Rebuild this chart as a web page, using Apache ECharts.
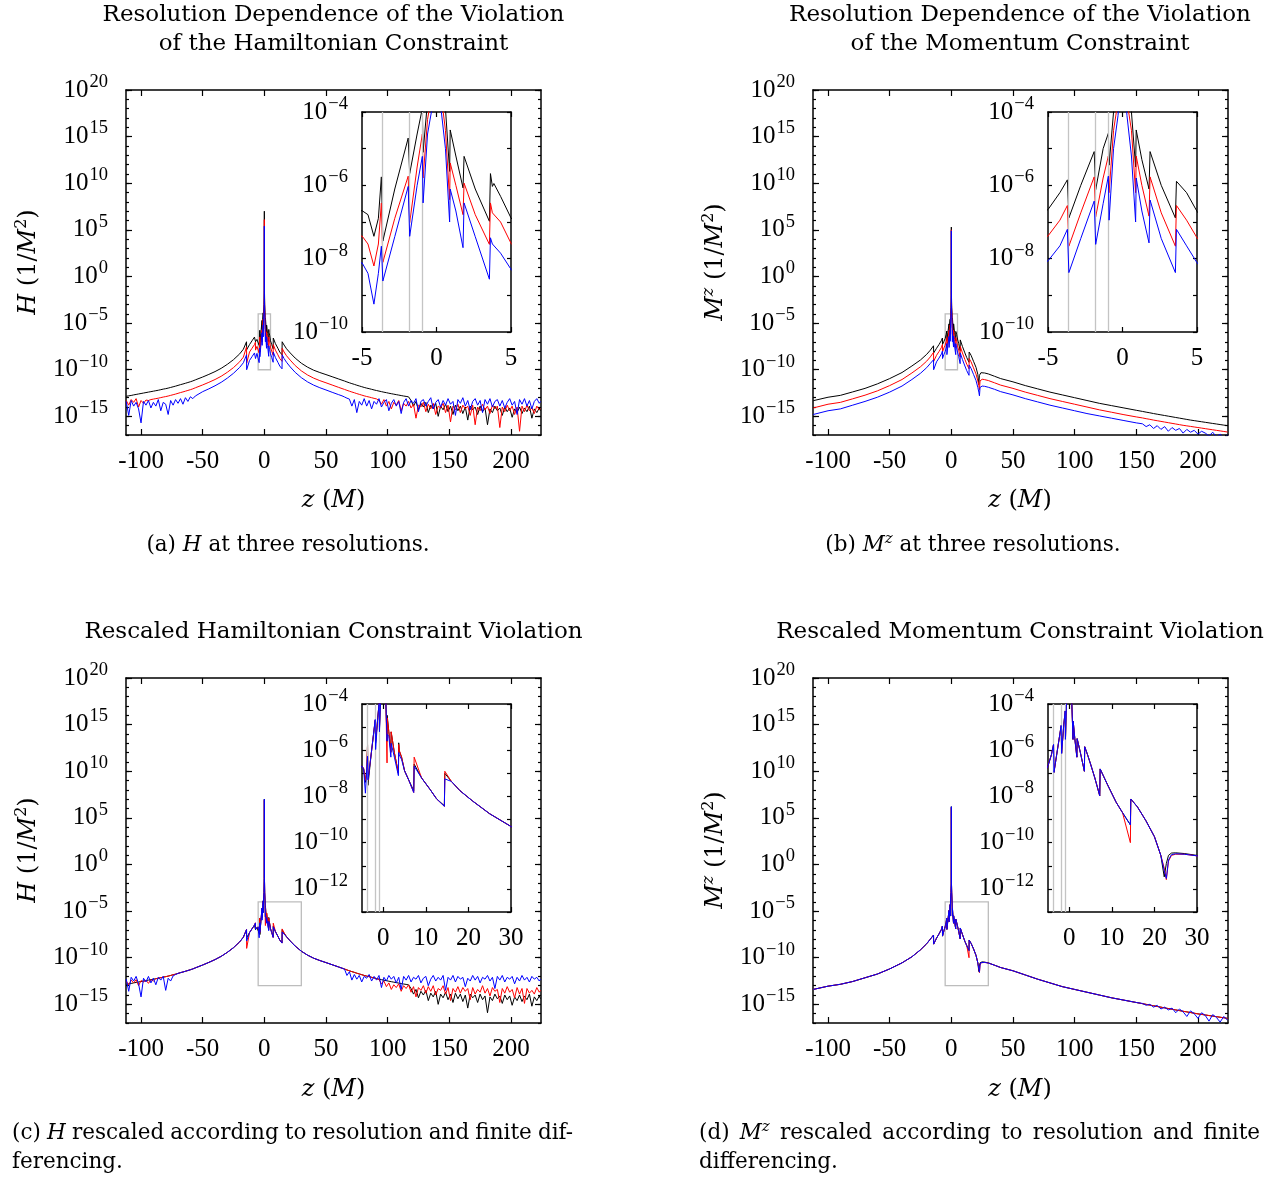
<!DOCTYPE html>
<html><head><meta charset="utf-8">
<script src="https://cdn.jsdelivr.net/npm/echarts@6/dist/echarts.min.js"></script>
<style>html,body{margin:0;padding:0;background:#fff}#c{width:1271px;height:1178px}</style>
</head><body><div id="c"></div><script>
// ---------------- DATA (log10 of constraint violation) ----------------
const zH = [-112,-110,-108,-106,-104,-102,-100,-98,-96,-94,-92,-90,-88,-86,-84,-82,-80,-78,-76,-74,-72,-70,-68,-66,-64,-62,-60,-58,-56,
-50,-45,-40,-35,-30,-25,-20,-17,
-14.45,-14.35,-12,-10,-8,-7.25,-7.15,-6,-5,-4.6,-4.2,-3.9,-3.7,-3.6,-2.8,-1.9,-1.8,-1.3,-0.95,-0.9,-0.6,-0.3,-0.1,0,0.1,0.3,0.6,0.88,0.92,1.3,1.78,1.85,2.6,3.55,3.62,3.75,3.85,4.3,5,6,7.15,7.25,9,11,12.5,14.35,14.45,
16,18,21,25,30,35,40,45,50,55,60,
63,65,67,69,71,73,75,77,79,81,83,85,87,89,91,93,95,97,99,101,103,105,107,109,111,113,115,117,119,121,123,125,127,129,131,133,135,137,139,141,143,145,147,149,151,153,155,157,159,161,163,165,167,169,171,173,175,177,179,181,183,185,187,189,191,193,195,197,199,201,203,205,207,209,211,213,215,217,219,221,223,224];

const hBlackA = [-12.85,-12.8,-12.76,-12.7,-12.65,-12.6,-12.55,-12.5,-12.45,-12.4,-12.35,-12.3,-12.25,-12.2,-12.14,-12.08,-12.03,-11.97,-11.9,-11.83,-11.76,-11.68,-11.6,-11.53,-11.45,-11.37,-11.29,-11.2,-11.09,
-10.78,-10.5,-10.2,-9.85,-9.42,-8.92,-8.3,-7.8,
-7.0,-7.86,-7.3,-6.9,-6.5,-6.3,-7.0,-6.75,-6.69,-6.8,-7.39,-6.9,-5.77,-7.52,-6.1,-4.71,-5.68,-4.6,-3.9,-5.1,-3.7,-3.0,-1.5,7.0,-1.5,-3.0,-3.9,-5.62,-4.49,-5.2,-6.07,-5.21,-6.1,-6.98,-5.68,-6.03,-5.95,-6.3,-6.89,-7.3,-7.75,-6.6,-7.2,-7.7,-8.1,-8.4,-7.0,
-7.35,-7.75,-8.2,-8.75,-9.3,-9.72,-10.05,-10.3,-10.52,-10.75,-10.98,
-11.12,-11.21,-11.31,-11.4,-11.49,-11.57,-11.66,-11.74,-11.82,-11.9,-11.97,-12.03,-12.1,-12.17,-12.23,-12.29,-12.35,-12.41,-12.46,-12.52,-12.57,-12.62,-12.67,-12.72,-12.77,-12.82,-12.86,-12.91,
-13.3,-13.9,-13.4,-14.3,-13.6,-14.0,-13.5,-14.6,-13.8,-14.2,
-13.6,-15.0,-13.9,-14.3,-13.7,-14.5,-13.9,-14.8,-13.8,-14.4,
-13.9,-14.7,-14.0,-15.4,-13.9,-14.3,-14.0,-14.8,-13.9,-14.5,
-14.1,-15.9,-14.2,-14.6,-13.9,-14.4,-14.1,-14.9,-14.0,-14.5,
-14.1,-15.1,-14.2,-14.6,-14.0,-14.7,-14.1,-14.5,-13.9,-15.2,
-14.2,-14.6,-14.1,-14.4];

const hRedA = [-13.3,-13.8,-13.2,-13.5,-13.1,-14.0,-13.3,-13.6,-13.25,-13.3,-13.2,-13.15,-13.1,-13.05,-12.99,-12.93,-12.88,-12.82,-12.75,-12.68,-12.61,-12.53,-12.45,-12.38,-12.3,-12.22,-12.14,-12.05,-11.94,
-11.63,-11.35,-11.05,-10.7,-10.27,-9.77,-9.15,-8.65,
-7.55,-9.3,-8.1,-7.7,-7.3,-7.05,-7.9,-7.5,-7.38,-7.6,-8.2,-7.6,-6.48,-8.1,-6.9,-5.75,-7.02,-5.5,-4.6,-5.8,-4.2,-3.5,-2.0,6.1,-2.0,-3.5,-4.5,-6.39,-5.39,-6.0,-6.8,-5.94,-6.8,-7.61,-6.48,-6.75,-6.7,-7.0,-7.58,-8.0,-8.45,-7.3,-7.9,-8.4,-8.8,-9.1,-7.7,
-8.1,-8.5,-8.97,-9.55,-10.12,-10.56,-10.9,-11.17,-11.4,-11.64,-11.88,
-12.02,-12.11,-12.21,-12.3,-12.39,-12.47,-12.56,-12.64,-12.72,-12.8,-12.87,-12.93,-13.0,-13.07,-13.13,
-13.3,-13.7,-13.2,-13.9,-13.4,-14.2,-13.5,-13.8,-13.3,-14.4,
-13.6,-13.9,-13.4,-14.1,-13.7,-15.2,-13.8,-14.0,-13.5,-14.5,
-13.7,-14.2,-13.6,-14.8,-13.9,-14.1,-13.6,-14.6,-13.8,-15.6,
-13.9,-14.3,-13.7,-14.6,-13.8,-14.2,-13.9,-14.9,-13.8,-15.9,
-14.0,-14.4,-13.7,-14.3,-13.9,-14.7,-13.8,-14.2,-13.9,-16.2,
-14.0,-14.5,-13.8,-14.4,-13.9,-14.8,-14.0,-16.6,-13.9,-14.5,
-13.8,-14.4,-14.1,-14.7,-13.9,-14.3,
-14.2];

const hBlueA = [-13.4,-14.9,-13.3,-13.9,-13.5,-14.2,-15.7,-13.4,-13.8,-13.3,-14.1,-13.5,-13.9,-13.2,-14.4,-13.5,-13.7,-14.8,-13.3,-13.8,-13.2,-13.6,-13.1,-13.7,-13.0,-13.4,-12.9,-13.1,-12.82,
-12.35,-12.05,-11.72,-11.35,-10.9,-10.38,-9.75,-9.25,
-8.4,-10.0,-9.0,-8.6,-8.2,-8.0,-8.8,-8.25,-8.11,-8.4,-9.24,-8.4,-7.66,-8.61,-7.4,-6.03,-7.39,-6.0,-5.21,-6.48,-4.6,-3.9,-2.5,5.4,-2.5,-3.9,-5.0,-7.0,-6.1,-6.7,-7.7,-6.48,-7.4,-8.56,-7.43,-7.6,-7.65,-7.85,-8.29,-8.7,-9.2,-8.1,-8.7,-9.2,-9.6,-9.9,-8.4,
-8.8,-9.2,-9.7,-10.28,-10.85,-11.3,-11.65,-11.93,-12.17,-12.42,-12.66,
-12.8,-12.92,-13.05,
-13.15,-13.9,-13.2,-14.6,-13.4,-13.8,-13.1,-13.9,-13.3,-14.2,
-13.4,-13.7,-13.1,-14.0,-13.5,-13.2,-14.4,-13.6,-13.2,-13.9,
-13.4,-14.7,-13.5,-13.1,-13.9,-13.3,-13.6,-13.1,-14.5,-13.4,
-13.2,-13.9,-13.4,-13.0,-14.2,-13.5,-13.2,-14.0,-13.3,-13.8,
-13.1,-13.7,-13.4,-14.9,-13.2,-13.6,-13.0,-13.9,-13.3,-14.3,
-13.4,-13.1,-13.8,-13.3,-14.6,-13.2,-13.7,-13.1,-14.0,-13.4,
-13.2,-13.9,-13.3,-14.1,-13.5,-13.1,-13.8,-13.4,-14.8,-13.2,
-13.7,-13.1,-13.9,-13.3,-14.2,-13.4,-13.1,-13.6,
-13.4];

// rescaled H (the coarse resolution is unchanged by the rescaling)
const hBlackC = hBlackA;
const hRedC = [-12.5,-12.9,-12.4,-12.7,-12.35,-13.0,-12.45,-12.6,-12.4,-12.75,-12.35,-12.5,-12.25,-12.2,-12.14,-12.08,-12.03,-11.97,-11.9,-11.83,-11.76,-11.68,-11.6,-11.53,-11.45,-11.37,-11.29,-11.2,-11.09,
-10.78,-10.5,-10.2,-9.85,-9.42,-8.92,-8.3,-7.8,
-6.96,-9.0,-7.3,-6.9,-6.5,-6.25,-6.9,-6.75,-6.69,-6.8,-7.3,-6.9,-5.75,-7.3,-6.1,-4.7,-5.6,-4.6,-3.9,-5.0,-3.7,-3.0,-1.5,6.9,-1.5,-3.0,-3.9,-6.55,-4.6,-5.2,-6.1,-5.2,-6.1,-7.0,-5.75,-6.0,-5.95,-6.3,-6.89,-7.3,-7.83,-6.3,-7.2,-7.7,-8.1,-8.43,-6.91,
-7.35,-7.75,-8.2,-8.75,-9.3,-9.72,-10.05,-10.3,-10.52,-10.75,-10.98,
-11.12,-11.21,-11.31,-11.4,-11.49,-11.57,-11.66,-11.74,-11.82,-11.9,-11.97,-12.03,-12.1,-12.17,-12.23,
-12.35,-12.8,-12.5,-13.1,-12.7,-13.4,-12.9,-13.2,-12.8,-13.6,
-13.0,-13.3,-12.9,-13.7,-13.1,-14.2,-13.2,-13.5,-13.0,-13.8,
-13.1,-13.6,-13.0,-14.0,-13.3,-13.5,-13.0,-13.9,-13.2,-14.6,
-13.3,-13.7,-13.1,-13.8,-13.2,-13.6,-13.3,-14.5,-13.2,-13.9,
-13.4,-13.7,-13.0,-13.8,-13.3,-14.1,-13.2,-13.6,-13.4,-14.8,
-13.3,-13.8,-13.1,-13.7,-13.4,-14.3,-13.2,-13.9,-13.3,-14.9,
-13.3,-13.8,-13.5,-13.9,-13.2,-13.7,
-13.5];

const hBlueC = [-12.3,-13.6,-12.1,-12.5,-12.0,-12.8,-14.2,-12.2,-12.6,-12.0,-12.7,-12.2,-12.9,-12.1,-12.4,-12.0,-13.5,-12.2,-12.5,-11.95,-11.8,-11.68,-11.6,-11.53,-11.45,-11.37,-11.29,-11.2,-11.09,
-10.78,-10.5,-10.2,-9.85,-9.42,-8.92,-8.3,-7.8,
-6.98,-8.2,-7.3,-6.9,-6.5,-6.27,-6.95,-6.75,-6.69,-6.85,-7.86,-6.9,-6.26,-7.28,-6.1,-4.67,-5.97,-4.6,-3.9,-5.2,-3.7,-3.0,-1.5,7.0,-1.5,-3.0,-3.9,-5.6,-5.31,-5.4,-6.3,-5.7,-6.3,-7.1,-6.1,-6.2,-6.15,-6.4,-6.89,-7.3,-7.83,-6.69,-7.2,-7.7,-8.1,-8.43,-7.24,
-7.35,-7.75,-8.2,-8.75,-9.3,-9.72,-10.05,-10.3,-10.52,-10.75,-10.98,
-11.12,-11.21,-11.9,
-11.5,-12.4,-11.8,-12.3,-11.9,-12.6,-12.0,-12.2,-11.8,-12.5,
-12.0,-12.4,-11.9,-13.2,-12.1,-12.5,-11.9,-12.3,-12.0,-12.7,
-12.1,-13.4,-12.0,-12.4,-11.9,-12.6,-12.1,-12.3,-11.9,-12.7,
-12.2,-12.0,-13.0,-12.3,-11.9,-12.5,-12.1,-12.4,-11.9,-13.5,
-12.1,-12.4,-11.9,-12.6,-12.0,-12.3,-12.1,-13.1,-12.2,-12.5,
-11.9,-12.4,-12.0,-12.7,-12.1,-12.3,-11.9,-12.5,-12.1,-13.3,
-12.0,-12.4,-11.9,-12.6,-12.1,-12.3,-12.0,-12.8,-12.1,-12.5,
-11.9,-12.4,-12.1,-12.6,-12.0,-12.3,-12.1,-12.5,
-12.3];

const zM = [-112,-100,-90,-80,-70,-60,-50,-40,-32,-25,-20,-17,
-14.45,-14.35,-12,-10,-8,-7.25,-7.15,-6,-5,-4.2,-3.7,-3.6,-2.8,-1.9,-1.8,-1.3,-0.95,-0.9,-0.6,-0.3,-0.1,0,0.1,0.3,0.6,0.88,0.92,1.3,1.78,1.85,2.6,3.55,3.62,4.3,5,6,7.15,7.25,9,11,12.5,14.35,14.45,
16,18,20,21.5,22.3,22.8,23.3,24,25,27,30,35,40,
50,60,70,80,90,100,110,120,130,140,150,
155,158,161,164,167,170,173,176,179,182,185,188,191,194,197,200,203,206,209,212,215,218,221,224];

const mBlackB = [-13.32,-12.95,-12.75,-12.38,-12.0,-11.52,-10.95,-10.3,-9.6,-8.95,-8.35,-7.9,
-7.43,-8.2,-7.7,-7.3,-6.85,-6.6,-7.3,-6.95,-6.66,-6.2,-5.85,-6.89,-6.0,-5.08,-6.12,-5.0,-4.58,-5.45,-4.0,-3.3,-2.0,5.3,-2.0,-3.3,-4.0,-5.5,-4.49,-5.3,-6.1,-5.08,-6.0,-6.89,-5.89,-6.2,-6.71,-7.2,-7.95,-6.8,-7.5,-8.2,-8.7,-9.2,-8.1,
-8.45,-9.1,-9.74,-10.5,-11.6,-10.6,-10.4,-10.32,-10.3,-10.35,-10.45,-10.7,-10.95,
-11.3,-11.7,-12.05,-12.4,-12.7,-13.0,-13.3,-13.6,-13.85,-14.1,-14.35,
-14.47,-14.55,-14.62,-14.7,-14.77,-14.84,-14.91,-14.98,-15.05,-15.12,-15.19,-15.26,-15.33,-15.4,-15.46,-15.52,-15.58,-15.64,-15.7,-15.76,-15.82,-15.88,-15.94,-16.0];

const mRedB = [-14.1,-13.7,-13.5,-13.12,-12.73,-12.27,-11.7,-11.05,-10.35,-9.68,-9.08,-8.62,
-8.14,-9.1,-8.45,-8.05,-7.6,-7.3,-8.1,-7.65,-7.38,-6.95,-6.55,-7.66,-6.75,-5.77,-6.86,-5.8,-5.2,-6.2,-4.5,-3.7,-2.5,5.0,-2.5,-3.7,-4.5,-6.2,-5.2,-6.0,-6.84,-5.77,-6.75,-7.66,-6.55,-6.95,-7.43,-7.9,-8.65,-7.5,-8.2,-8.9,-9.4,-9.9,-8.8,
-9.15,-9.8,-10.45,-11.2,-11.7,-12.14,-11.2,-11.05,-11.02,-11.06,-11.16,-11.4,-11.65,
-12.0,-12.4,-12.75,-13.1,-13.4,-13.7,-14.0,-14.3,-14.56,-14.82,-15.06,
-15.17,-15.25,-15.32,-15.4,-15.47,-15.54,-15.61,-15.68,-15.75,-15.82,-15.89,-15.96,-16.02,-16.08,-16.14,-16.2,-16.26,-16.32,-16.38,-16.44,-16.5,-16.56,-16.62,-16.68];

const mBlueB = [-14.8,-14.4,-14.2,-13.8,-13.4,-12.95,-12.4,-11.75,-11.05,-10.38,-9.78,-9.32,
-8.93,-10.0,-9.15,-8.75,-8.3,-8.0,-8.8,-8.35,-8.06,-7.65,-7.2,-8.38,-7.45,-6.43,-7.61,-6.5,-5.75,-6.95,-5.0,-4.1,-2.9,4.9,-2.9,-4.1,-5.2,-7.0,-5.8,-6.7,-7.57,-6.4,-7.45,-8.38,-7.2,-7.65,-8.11,-8.6,-9.35,-8.2,-8.9,-9.6,-10.1,-10.6,-9.5,
-9.85,-10.5,-11.15,-11.9,-12.4,-12.8,-11.9,-11.78,-11.75,-11.78,-11.88,-12.1,-12.35,
-12.7,-13.1,-13.45,-13.8,-14.1,-14.4,-14.7,-14.95,-15.2,-15.45,-15.7,
-15.8,-16.1,-15.9,-16.3,-16.0,-16.4,-16.1,-16.6,-16.2,-16.5,-16.3,-16.8,-16.4,-16.7,-16.5,-16.9,-16.6,-16.8,-17.1,-16.7,-17.2,-16.9,-17.3,-17.0];

const mBlackD = [-13.4,-13.05,-12.85,-12.55,-12.15,-11.75,-11.2,-10.55,-9.9,-9.15,-8.5,-8.0,
-7.57,-8.54,-7.9,-7.45,-6.95,-6.6,-7.68,-7.1,-6.67,-6.2,-5.75,-6.96,-6.0,-4.93,-6.14,-4.9,-4.3,-5.53,-3.6,-3.0,-2.0,6.2,-2.0,-3.0,-4.0,-5.53,-4.74,-5.5,-6.3,-5.5,-6.1,-6.91,-5.85,-6.2,-6.6,-7.2,-7.97,-6.81,-7.5,-8.25,-8.7,-9.23,-8.11,
-8.45,-9.05,-9.74,-10.55,-11.48,-10.9,-10.55,-10.45,-10.44,-10.47,-10.55,-10.8,-11.05,
-11.4,-11.85,-12.3,-12.7,-13.1,-13.4,-13.7,-14.0,-14.3,-14.55,-14.8,
-14.93,-15.0,-15.08,-15.15,-15.23,-15.3,-15.38,-15.45,-15.52,-15.6,-15.67,-15.74,-15.81,-15.88,-15.95,-16.02,-16.08,-16.14,-16.2,-16.26,-16.32,-16.38,-16.44,-16.5];

const mRedD = [-13.4,-13.05,-12.85,-12.55,-12.15,-11.75,-11.2,-10.55,-9.9,-9.15,-8.5,-8.0,
-7.57,-8.54,-7.9,-7.45,-6.95,-6.6,-7.68,-7.1,-6.67,-6.2,-5.75,-6.96,-6.0,-4.93,-6.14,-4.9,-4.3,-5.53,-3.6,-3.0,-2.0,6.1,-2.0,-3.0,-4.0,-5.53,-4.74,-5.5,-6.3,-5.5,-6.1,-6.91,-5.85,-6.2,-6.6,-7.2,-7.97,-6.81,-7.5,-8.25,-8.7,-10.0,-8.11,
-8.45,-9.05,-9.74,-10.55,-11.1,-11.6,-10.8,-10.55,-10.5,-10.5,-10.57,-10.8,-11.05,
-11.4,-11.85,-12.3,-12.7,-13.1,-13.4,-13.7,-14.0,-14.3,-14.55,-14.8,
-14.93,-15.0,-15.08,-15.15,-15.23,-15.3,-15.38,-15.45,-15.52,-15.6,-15.67,-15.74,-15.81,-15.88,-15.95,-16.02,-16.08,-16.14,-16.2,-16.26,-16.32,-16.38,-16.44,-16.5];

const mBlueD = [-13.4,-13.05,-12.85,-12.55,-12.15,-11.75,-11.2,-10.55,-9.9,-9.15,-8.5,-8.0,
-7.57,-8.54,-7.9,-7.45,-6.95,-6.6,-7.68,-7.1,-6.67,-6.2,-5.75,-6.96,-6.0,-4.93,-6.14,-4.9,-4.3,-5.53,-3.6,-3.0,-2.0,6.2,-2.0,-3.0,-4.0,-5.53,-4.74,-5.5,-6.3,-5.5,-6.1,-6.91,-5.85,-6.2,-6.6,-7.2,-7.97,-6.81,-7.5,-8.25,-8.7,-9.23,-8.11,
-8.45,-9.05,-9.74,-10.55,-11.2,-11.55,-10.75,-10.52,-10.48,-10.5,-10.57,-10.8,-11.05,
-11.4,-11.85,-12.3,-12.7,-13.1,-13.4,-13.7,-14.0,-14.3,-14.55,-14.8,
-14.9,-15.1,-15.0,-15.3,-15.1,-15.5,-15.3,-15.6,-15.4,-15.9,-15.5,-15.8,-16.3,-15.7,-16.0,-16.5,-15.9,-16.2,-16.8,-16.1,-16.4,-16.9,-16.3,-16.7];

// tick values / annotations
const xMainTicks = [-100,-50,0,50,100,150,200];
const yMainMajor = [-15,-10,-5,0,5,10,15,20];
const xInsetTicksAB = [-5,0,5];
const xInsetTicksCD = [0,10,20,30];
const gridLinesAB = [-3.63,-1.84,-0.93];
const gridLinesCD = [-3.66,-1.86,-0.94];
const seriesColors = ['#000000','#ff0000','#0000ff'];

// ---------------- CHART ----------------
const FN = '"Liberation Serif", serif';
const FT = '"DejaVu Serif", serif';
function pts(z, v){ const o=[]; const n=Math.min(z.length,v.length); for(let i=0;i<n;i++) o.push([z[i],v[i]]); if(z.length!==v.length) console.warn('length mismatch', z.length, v.length); return o; }
function expStr(v){ return v<0 ? '\u2212'+(-v) : String(v); }
function supLabel(v){ return '{b|10}{s|'+expStr(v)+'}'; }
const labRich = {
  b:{fontFamily:FN, fontSize:25, color:'#000', verticalAlign:'bottom', lineHeight:25},
  s:{fontFamily:FN, fontSize:18.5, color:'#000', verticalAlign:'bottom', lineHeight:18, padding:[0,0,11,1]}
};
const BLK = '#000';
function xAxisDef(g, pos, min, max, ticks, labels, tl){
  return {gridIndex:g, type:'value', position:pos, min, max,
    axisLine:{show:true, onZero:false, lineStyle:{color:BLK, width:1.5}},
    axisTick:{show:true, inside:true, length:tl, customValues:ticks, lineStyle:{color:BLK, width:1.2}},
    axisLabel:{show:labels, customValues:ticks, margin:14, fontFamily:FN, fontSize:25, color:BLK},
    splitLine:{show:false}};
}
function yAxisMinor(g, pos, min, max, tl, fmt, margin){
  return {gridIndex:g, type:'value', position:pos, min, max, interval:1,
    axisLine:{show:true, onZero:false, lineStyle:{color:BLK, width:1.5}},
    axisTick:{show:true, inside:true, length:tl, lineStyle:{color:BLK, width:1.2}},
    axisLabel:{show:!!fmt, formatter:fmt||undefined, rich:labRich, margin:margin||8, showMinLabel:true, showMaxLabel:true},
    splitLine:{show:false}};
}
function yAxisMajor(g, pos, min, max, ticks, tl){
  return {gridIndex:g, type:'value', position:pos, min, max,
    axisLine:{show:false, onZero:false},
    axisTick:{show:true, inside:true, length:tl, customValues:ticks, lineStyle:{color:BLK, width:1.2}},
    axisLabel:{show:false}, splitLine:{show:false}};
}

const panels = [
  {main:{left:126,top:90,width:415,height:345}, inset:{left:362,top:112,width:149,height:220},
   ix:[-5,5], iy:[-10,-4], ixt:xInsetTicksAB, gl:gridLinesAB, z:zH, s:[hBlackA,hRedA,hBlueA]},
  {main:{left:813,top:90,width:415,height:345}, inset:{left:1048,top:112,width:149,height:220},
   ix:[-5,5], iy:[-10,-4], ixt:xInsetTicksAB, gl:gridLinesAB, z:zM, s:[mBlackB,mRedB,mBlueB]},
  {main:{left:126,top:678,width:415,height:345}, inset:{left:362,top:704,width:149,height:208},
   ix:[-5,30], iy:[-13,-4], ixt:xInsetTicksCD, gl:gridLinesCD, z:zH, s:[hBlackC,hRedC,hBlueC]},
  {main:{left:813,top:678,width:415,height:345}, inset:{left:1048,top:704,width:149,height:208},
   ix:[-5,30], iy:[-13,-4], ixt:xInsetTicksCD, gl:gridLinesCD, z:zM, s:[mBlackD,mRedD,mBlueD]}
];

const grids=[], xAxes=[], yAxes=[], series=[];
panels.forEach(p=>{
  const gm=grids.length; grids.push(Object.assign({containLabel:false}, p.main));
  const gi=grids.length; grids.push(Object.assign({containLabel:false}, p.inset));
  const xm=xAxes.length;
  xAxes.push(xAxisDef(gm,'bottom',-112.2,224.4,xMainTicks,true,6));
  xAxes.push(xAxisDef(gm,'top',-112.2,224.4,xMainTicks,false,6));
  const ym=yAxes.length;
  yAxes.push(yAxisMinor(gm,'left',-17,20,3,v=>(Math.round(v)%5===0?supLabel(Math.round(v)):''),18));
  yAxes.push(yAxisMajor(gm,'left',-17,20,yMainMajor,6));
  yAxes.push(yAxisMinor(gm,'right',-17,20,3,null));
  yAxes.push(yAxisMajor(gm,'right',-17,20,yMainMajor,6));
  const xi=xAxes.length;
  xAxes.push(xAxisDef(gi,'bottom',p.ix[0],p.ix[1],p.ixt,true,5));
  xAxes.push(xAxisDef(gi,'top',p.ix[0],p.ix[1],p.ixt,false,5));
  const yi=yAxes.length;
  yAxes.push(yAxisMinor(gi,'left',p.iy[0],p.iy[1],4,v=>(Math.round(v)%2===0?supLabel(Math.round(v)):''),14));
  yAxes.push(yAxisMinor(gi,'right',p.iy[0],p.iy[1],4,null));
  p.s.forEach((vals,k)=>{
    const data=pts(p.z,vals);
    const base={type:'line', data, showSymbol:false, symbol:'none', silent:true, animation:false,
      lineStyle:{color:seriesColors[k], width:1}, itemStyle:{color:seriesColors[k]}, clip:true, z:3+k};
    const sm=Object.assign({}, base, {xAxisIndex:xm, yAxisIndex:ym});
    if(k===0){
      sm.markArea={silent:true, itemStyle:{color:'rgba(0,0,0,0)', borderColor:'#bdbdbd', borderWidth:1.3},
        data:[[{coord:[p.ix[0],p.iy[0]]},{coord:[p.ix[1],p.iy[1]]}]]};
    }
    series.push(sm);
    const si=Object.assign({}, base, {xAxisIndex:xi, yAxisIndex:yi});
    if(k===0){
      si.markLine={silent:true, symbol:['none','none'], label:{show:false}, animation:false,
        lineStyle:{color:'#c4c4c4', width:1.3, type:'solid'},
        data:p.gl.map(v=>({xAxis:v}))};
    }
    series.push(si);
  });
});

// ---------------- TEXT ----------------
const TS = 23;    // title size
const CS = 21.5;  // caption size
const gtext = [];
function T(x,y,text,opt){
  opt=opt||{};
  gtext.push({type:'text', x, y, rotation:opt.rot||0, silent:true, z:100,
    style:{text, fill:'#000', fontFamily:opt.ff||FT, fontSize:opt.fs||TS,
      textAlign:opt.align||'center', textVerticalAlign:'middle', align:opt.align||'center', verticalAlign:'middle',
      rich:opt.rich}});
}
function mkRich(fs){
  const ss=Math.round(fs*0.68), sp=Math.round(fs*0.45);
  return {
    r:{fontFamily:FT, fontSize:fs, color:'#000', verticalAlign:'bottom', lineHeight:fs+2},
    i:{fontFamily:FT, fontSize:fs, fontStyle:'italic', color:'#000', verticalAlign:'bottom', lineHeight:fs+2},
    s:{fontFamily:FT, fontSize:ss, color:'#000', verticalAlign:'bottom', lineHeight:ss, padding:[0,0,sp,0]},
    si:{fontFamily:FT, fontSize:ss, fontStyle:'italic', color:'#000', verticalAlign:'bottom', lineHeight:ss, padding:[0,0,sp,0]}
  };
}
// titles
T(333.5,15,'Resolution Dependence of the Violation');
T(333.5,44,'of the Hamiltonian Constraint');
T(1020,15,'Resolution Dependence of the Violation');
T(1020,44,'of the Momentum Constraint');
T(333.5,632,'Rescaled Hamiltonian Constraint Violation');
T(1020,632,'Rescaled Momentum Constraint Violation');
// axis names
const AN=24, anRich=mkRich(AN);
T(333.5,500,'{i|z} {r|(}{i|M}{r|)}',{fs:AN,rich:anRich});
T(1020,500,'{i|z} {r|(}{i|M}{r|)}',{fs:AN,rich:anRich});
T(333.5,1089,'{i|z} {r|(}{i|M}{r|)}',{fs:AN,rich:anRich});
T(1020,1089,'{i|z} {r|(}{i|M}{r|)}',{fs:AN,rich:anRich});
T(28,262,'{i|H} {r|(1/}{i|M}{s|2}{r|)}',{fs:AN,rich:anRich,rot:Math.PI/2});
T(715,262,'{i|M}{si|z} {r|(1/}{i|M}{s|2}{r|)}',{fs:AN,rich:anRich,rot:Math.PI/2});
T(28,850,'{i|H} {r|(1/}{i|M}{s|2}{r|)}',{fs:AN,rich:anRich,rot:Math.PI/2});
T(715,850,'{i|M}{si|z} {r|(1/}{i|M}{s|2}{r|)}',{fs:AN,rich:anRich,rot:Math.PI/2});
// captions
const cRich=mkRich(CS);
T(288,545,'{r|(a) }{i|H}{r| at three resolutions.}',{fs:CS,rich:cRich});
T(973,545,'{r|(b) }{i|M}{si|z}{r| at three resolutions.}',{fs:CS,rich:cRich});
const cv=document.createElement('canvas').getContext('2d');
function wWidth(w){
  let tot=0;
  w.parts.forEach(pt=>{
    const fs = pt.sup ? Math.round(CS*0.68) : CS;
    cv.font=(pt.it?'italic ':'')+fs+'px "DejaVu Serif"';
    tot+=cv.measureText(pt.t).width;
  });
  return tot;
}
function wRich(w){ return w.parts.map(pt=>'{'+(pt.sup?(pt.it?'si':'s'):(pt.it?'i':'r'))+'|'+pt.t+'}').join(''); }
function justify(words,x0,x1,y){
  const ws=words.map(wWidth); const sum=ws.reduce((a,b)=>a+b,0);
  const gap=(x1-x0-sum)/(words.length-1); let x=x0;
  words.forEach((w,i)=>{ T(x,y,wRich(w),{fs:CS,rich:cRich,align:'left'}); x+=ws[i]+gap; });
}
const W=t=>({parts:[{t}]});
justify([W('(c)'),{parts:[{t:'H',it:true}]},W('rescaled'),W('according'),W('to'),W('resolution'),W('and'),W('finite'),W('dif-')],12,573,1133);
T(12,1162,'{r|ferencing.}',{fs:CS,rich:cRich,align:'left'});
justify([W('(d)'),{parts:[{t:'M',it:true},{t:'z',it:true,sup:true}]},W('rescaled'),W('according'),W('to'),W('resolution'),W('and'),W('finite')],699,1260,1133);
T(699,1162,'{r|differencing.}',{fs:CS,rich:cRich,align:'left'});

const chart=echarts.init(document.getElementById('c'),null,{renderer:'canvas'});
chart.setOption({animation:false, backgroundColor:'#ffffff', grid:grids, xAxis:xAxes, yAxis:yAxes, series, graphic:gtext});
</script></body></html>
